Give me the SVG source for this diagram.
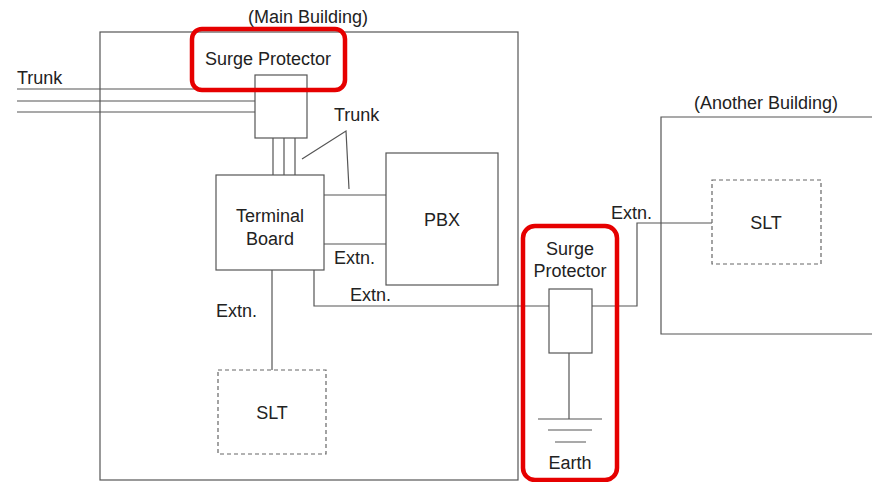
<svg xmlns="http://www.w3.org/2000/svg" width="872" height="482" viewBox="0 0 872 482">
<style>
.ln{fill:none;stroke:#555;stroke-width:1.2}
.ds{fill:none;stroke:#666;stroke-width:1.2;stroke-dasharray:4 3}
.hl{fill:none;stroke:#e60000;stroke-width:4.5}
text{font-family:"Liberation Sans",Arial,sans-serif;font-size:18px;fill:#222}
.c{text-anchor:middle}
</style>
<rect width="872" height="482" fill="#fff"/>
<g id="main-building">
<rect class="ln" x="100" y="32" width="418" height="448"/>
<text class="c" x="308" y="23">(Main Building)</text>
</g>
<g id="another-building">
<path class="ln" d="M872 117H661V334H872"/>
<text class="c" x="766" y="109">(Another Building)</text>
</g>
<g id="connectors">
<path class="ln" d="M17 89H255M17 101H255M17 112H255"/>
<path class="ln" d="M273 138V175M284 138V175M295 138V175"/>
<path class="ln" d="M302 159L346 131L349 189"/>
<path class="ln" d="M324 195H386M324 244H386"/>
<path class="ln" d="M314 270V306H549"/>
<path class="ln" d="M272 270V370"/>
<path class="ln" d="M592 306H637V223H712"/>
<path class="ln" d="M569 353V419M538 419H602M548 430H592M555 442H586"/>
<text x="17" y="84">Trunk</text>
<text x="334" y="121">Trunk</text>
<text x="334" y="264">Extn.</text>
<text x="350" y="301">Extn.</text>
<text x="216" y="317">Extn.</text>
<text x="611" y="219">Extn.</text>
</g>
<g id="surge-protector-main">
<rect class="ln" x="255" y="75" width="52" height="63"/>
<rect class="hl" x="192" y="29" width="153" height="61" rx="10"/>
<text class="c" x="268" y="65">Surge Protector</text>
</g>
<g id="terminal-board">
<rect class="ln" x="216" y="175" width="108" height="95"/>
<text class="c" x="270" y="222">Terminal</text>
<text class="c" x="270" y="245">Board</text>
</g>
<g id="pbx">
<rect class="ln" x="386" y="153" width="112" height="132"/>
<text class="c" x="442" y="226">PBX</text>
</g>
<g id="slt-main">
<rect class="ds" x="218" y="370" width="108" height="84"/>
<text class="c" x="272" y="419">SLT</text>
</g>
<g id="slt-another">
<rect class="ds" x="712" y="180" width="109" height="84"/>
<text class="c" x="766" y="229">SLT</text>
</g>
<g id="surge-protector-ext">
<rect class="ln" x="549" y="289" width="43" height="64"/>
<rect class="hl" x="523" y="226" width="94" height="254" rx="12"/>
<text class="c" x="570" y="255">Surge</text>
<text class="c" x="570" y="277">Protector</text>
<text class="c" x="570" y="469">Earth</text>
</g>
</svg>
